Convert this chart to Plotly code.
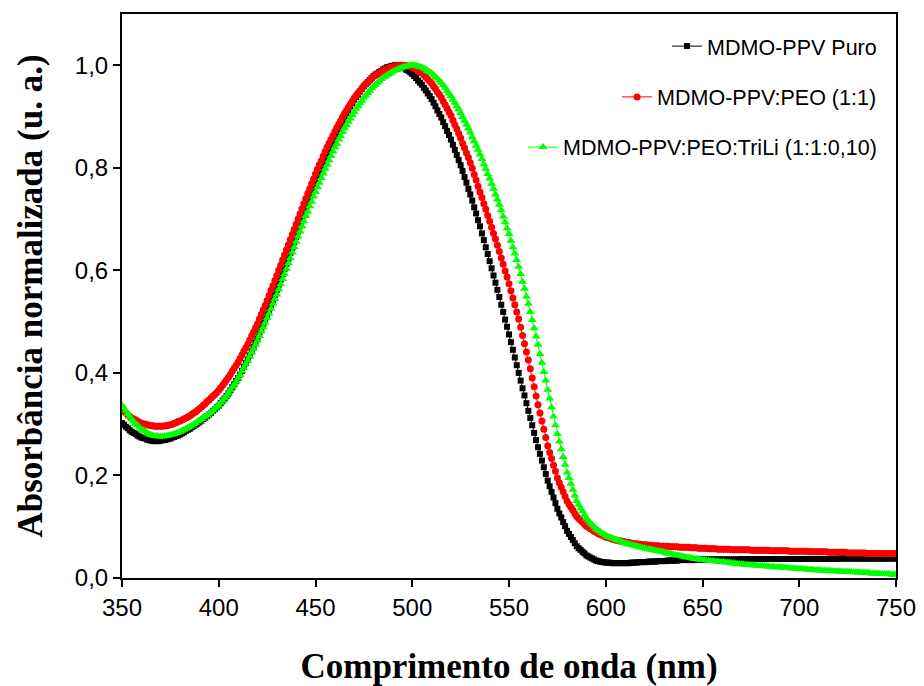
import plotly.graph_objects as go

# Wavelength grid (nm), one reading per nanometre
wavelength = list(range(350, 751))

# Normalised absorbance, MDMO-PPV pure film
abs_puro = [
    0.302, 0.299, 0.295, 0.292, 0.288, 0.285, 0.283, 0.281, 0.278, 0.276,
    0.274, 0.273, 0.272, 0.270, 0.269, 0.268, 0.267, 0.267, 0.267, 0.267,
    0.268, 0.269, 0.269, 0.270, 0.271, 0.272, 0.274, 0.275, 0.277, 0.278,
    0.280, 0.282, 0.284, 0.287, 0.289, 0.291, 0.294, 0.296, 0.299, 0.301,
    0.304, 0.307, 0.310, 0.313, 0.316, 0.319, 0.322, 0.326, 0.329, 0.333,
    0.336, 0.341, 0.346, 0.350, 0.355, 0.360, 0.366, 0.372, 0.378, 0.384,
    0.390, 0.397, 0.404, 0.412, 0.419, 0.426, 0.434, 0.442, 0.451, 0.459,
    0.467, 0.476, 0.485, 0.495, 0.504, 0.513, 0.523, 0.533, 0.542, 0.552,
    0.562, 0.572, 0.582, 0.593, 0.603, 0.613, 0.623, 0.634, 0.644, 0.655,
    0.665, 0.676, 0.687, 0.698, 0.708, 0.719, 0.729, 0.739, 0.750, 0.760,
    0.770, 0.780, 0.789, 0.799, 0.808, 0.818, 0.827, 0.836, 0.844, 0.853,
    0.862, 0.870, 0.877, 0.885, 0.892, 0.900, 0.907, 0.913, 0.920, 0.926,
    0.933, 0.938, 0.943, 0.949, 0.954, 0.959, 0.963, 0.967, 0.971, 0.975,
    0.979, 0.982, 0.984, 0.987, 0.989, 0.992, 0.994, 0.996, 0.997, 0.998,
    0.999, 1.000, 1.000, 0.999, 0.998, 0.996, 0.994, 0.991, 0.989, 0.986,
    0.983, 0.979, 0.975, 0.970, 0.966, 0.962, 0.956, 0.951, 0.945, 0.940,
    0.934, 0.927, 0.920, 0.912, 0.905, 0.898, 0.889, 0.881, 0.872, 0.864,
    0.855, 0.845, 0.835, 0.825, 0.815, 0.805, 0.794, 0.782, 0.771, 0.759,
    0.748, 0.736, 0.723, 0.711, 0.698, 0.686, 0.672, 0.659, 0.645, 0.632,
    0.618, 0.604, 0.590, 0.576, 0.562, 0.548, 0.533, 0.519, 0.504, 0.490,
    0.475, 0.460, 0.445, 0.430, 0.415, 0.400, 0.385, 0.370, 0.356, 0.341,
    0.326, 0.312, 0.298, 0.283, 0.269, 0.255, 0.242, 0.229, 0.216, 0.203,
    0.190, 0.179, 0.168, 0.157, 0.146, 0.135, 0.126, 0.118, 0.109, 0.101,
    0.092, 0.086, 0.080, 0.074, 0.068, 0.062, 0.058, 0.055, 0.051, 0.048,
    0.044, 0.042, 0.040, 0.038, 0.036, 0.034, 0.033, 0.032, 0.031, 0.031,
    0.030, 0.030, 0.030, 0.029, 0.029, 0.029, 0.029, 0.029, 0.029, 0.029,
    0.029, 0.029, 0.029, 0.030, 0.030, 0.030, 0.030, 0.031, 0.031, 0.031,
    0.031, 0.031, 0.032, 0.032, 0.032, 0.032, 0.032, 0.033, 0.033, 0.033,
    0.033, 0.033, 0.034, 0.034, 0.034, 0.034, 0.034, 0.034, 0.035, 0.035,
    0.035, 0.035, 0.035, 0.035, 0.035, 0.035, 0.035, 0.036, 0.036, 0.036,
    0.036, 0.036, 0.036, 0.036, 0.036, 0.036, 0.036, 0.036, 0.036, 0.036,
    0.036, 0.036, 0.036, 0.036, 0.036, 0.036, 0.036, 0.036, 0.036, 0.036,
    0.037, 0.037, 0.037, 0.037, 0.037, 0.037, 0.037, 0.037, 0.037, 0.037,
    0.037, 0.037, 0.037, 0.037, 0.037, 0.037, 0.037, 0.037, 0.037, 0.037,
    0.037, 0.037, 0.037, 0.037, 0.037, 0.037, 0.037, 0.037, 0.037, 0.037,
    0.037, 0.037, 0.037, 0.037, 0.037, 0.037, 0.037, 0.037, 0.037, 0.037,
    0.037, 0.037, 0.037, 0.037, 0.037, 0.037, 0.037, 0.037, 0.037, 0.037,
    0.038, 0.038, 0.038, 0.038, 0.038, 0.038, 0.038, 0.038, 0.038, 0.038,
    0.038, 0.038, 0.038, 0.038, 0.038, 0.038, 0.038, 0.038, 0.038, 0.038,
    0.038, 0.038, 0.038, 0.038, 0.038, 0.038, 0.038, 0.038, 0.038, 0.038,
    0.038,
]

# Normalised absorbance, MDMO-PPV:PEO (1:1) blend
abs_peo = [
    0.328, 0.325, 0.322, 0.318, 0.315, 0.312, 0.310, 0.308, 0.306, 0.304,
    0.302, 0.301, 0.300, 0.299, 0.298, 0.297, 0.297, 0.296, 0.296, 0.296,
    0.296, 0.296, 0.297, 0.297, 0.298, 0.299, 0.300, 0.302, 0.303, 0.305,
    0.306, 0.308, 0.310, 0.312, 0.314, 0.316, 0.319, 0.322, 0.324, 0.327,
    0.330, 0.333, 0.337, 0.340, 0.344, 0.347, 0.351, 0.355, 0.358, 0.362,
    0.366, 0.371, 0.376, 0.381, 0.386, 0.391, 0.397, 0.403, 0.409, 0.415,
    0.421, 0.428, 0.435, 0.442, 0.449, 0.456, 0.464, 0.472, 0.480, 0.488,
    0.496, 0.505, 0.514, 0.523, 0.532, 0.541, 0.551, 0.561, 0.570, 0.580,
    0.590, 0.600, 0.610, 0.620, 0.630, 0.640, 0.650, 0.660, 0.670, 0.680,
    0.690, 0.700, 0.710, 0.720, 0.730, 0.740, 0.750, 0.759, 0.769, 0.778,
    0.788, 0.797, 0.806, 0.814, 0.823, 0.832, 0.840, 0.848, 0.855, 0.863,
    0.871, 0.878, 0.885, 0.892, 0.899, 0.906, 0.912, 0.918, 0.924, 0.930,
    0.936, 0.941, 0.946, 0.950, 0.955, 0.960, 0.964, 0.967, 0.971, 0.974,
    0.978, 0.980, 0.983, 0.985, 0.988, 0.990, 0.992, 0.993, 0.995, 0.996,
    0.997, 0.998, 0.999, 0.999, 1.000, 1.000, 1.000, 0.999, 0.998, 0.997,
    0.996, 0.994, 0.992, 0.989, 0.987, 0.985, 0.981, 0.977, 0.973, 0.969,
    0.965, 0.959, 0.954, 0.948, 0.943, 0.937, 0.930, 0.923, 0.916, 0.909,
    0.902, 0.893, 0.884, 0.876, 0.867, 0.858, 0.848, 0.839, 0.829, 0.820,
    0.810, 0.799, 0.787, 0.776, 0.764, 0.753, 0.742, 0.730, 0.719, 0.707,
    0.696, 0.684, 0.672, 0.661, 0.649, 0.637, 0.624, 0.612, 0.599, 0.587,
    0.574, 0.560, 0.546, 0.533, 0.519, 0.505, 0.489, 0.473, 0.457, 0.441,
    0.425, 0.408, 0.390, 0.373, 0.355, 0.338, 0.322, 0.306, 0.290, 0.274,
    0.258, 0.245, 0.233, 0.220, 0.208, 0.195, 0.186, 0.177, 0.168, 0.159,
    0.150, 0.144, 0.138, 0.132, 0.126, 0.120, 0.116, 0.112, 0.109, 0.105,
    0.101, 0.099, 0.096, 0.094, 0.091, 0.089, 0.087, 0.085, 0.084, 0.082,
    0.080, 0.079, 0.078, 0.076, 0.075, 0.074, 0.073, 0.072, 0.072, 0.071,
    0.070, 0.069, 0.069, 0.068, 0.067, 0.067, 0.067, 0.066, 0.066, 0.065,
    0.065, 0.065, 0.064, 0.064, 0.063, 0.063, 0.063, 0.063, 0.062, 0.062,
    0.062, 0.062, 0.062, 0.061, 0.061, 0.061, 0.061, 0.061, 0.060, 0.060,
    0.060, 0.060, 0.060, 0.060, 0.059, 0.059, 0.059, 0.059, 0.058, 0.058,
    0.058, 0.058, 0.058, 0.057, 0.057, 0.057, 0.057, 0.057, 0.056, 0.056,
    0.056, 0.056, 0.056, 0.056, 0.056, 0.055, 0.055, 0.055, 0.055, 0.055,
    0.055, 0.055, 0.055, 0.055, 0.055, 0.054, 0.054, 0.054, 0.054, 0.054,
    0.054, 0.054, 0.054, 0.054, 0.054, 0.053, 0.053, 0.053, 0.053, 0.053,
    0.053, 0.053, 0.053, 0.053, 0.053, 0.052, 0.052, 0.052, 0.052, 0.052,
    0.052, 0.052, 0.052, 0.052, 0.052, 0.051, 0.051, 0.051, 0.051, 0.051,
    0.051, 0.051, 0.051, 0.051, 0.051, 0.050, 0.050, 0.050, 0.050, 0.050,
    0.050, 0.050, 0.050, 0.050, 0.050, 0.049, 0.049, 0.049, 0.049, 0.049,
    0.049, 0.049, 0.049, 0.049, 0.049, 0.048, 0.048, 0.048, 0.048, 0.048,
    0.048, 0.048, 0.048, 0.048, 0.048, 0.048, 0.048, 0.048, 0.048, 0.048,
    0.048,
]

# Normalised absorbance, MDMO-PPV:PEO:TriLi (1:1:0,10) blend
abs_trili = [
    0.337, 0.331, 0.326, 0.320, 0.315, 0.309, 0.305, 0.301, 0.298, 0.294,
    0.290, 0.288, 0.286, 0.283, 0.281, 0.279, 0.278, 0.277, 0.277, 0.276,
    0.276, 0.276, 0.277, 0.277, 0.278, 0.279, 0.280, 0.281, 0.283, 0.284,
    0.285, 0.287, 0.289, 0.291, 0.293, 0.295, 0.297, 0.300, 0.302, 0.305,
    0.307, 0.310, 0.313, 0.315, 0.318, 0.321, 0.324, 0.327, 0.331, 0.334,
    0.337, 0.342, 0.346, 0.351, 0.355, 0.360, 0.366, 0.372, 0.377, 0.383,
    0.389, 0.396, 0.403, 0.410, 0.417, 0.424, 0.432, 0.440, 0.447, 0.455,
    0.463, 0.472, 0.481, 0.489, 0.498, 0.507, 0.516, 0.525, 0.535, 0.544,
    0.553, 0.563, 0.573, 0.583, 0.593, 0.603, 0.614, 0.624, 0.635, 0.645,
    0.656, 0.666, 0.676, 0.686, 0.696, 0.706, 0.715, 0.725, 0.734, 0.744,
    0.753, 0.762, 0.771, 0.780, 0.789, 0.798, 0.806, 0.815, 0.823, 0.832,
    0.840, 0.847, 0.855, 0.862, 0.870, 0.877, 0.883, 0.890, 0.896, 0.903,
    0.909, 0.915, 0.920, 0.926, 0.931, 0.937, 0.941, 0.946, 0.950, 0.955,
    0.959, 0.962, 0.966, 0.969, 0.973, 0.976, 0.978, 0.981, 0.983, 0.986,
    0.988, 0.990, 0.991, 0.993, 0.994, 0.996, 0.997, 0.998, 0.999, 1.000,
    1.000, 1.000, 0.999, 0.998, 0.997, 0.996, 0.994, 0.992, 0.989, 0.987,
    0.985, 0.981, 0.977, 0.974, 0.970, 0.966, 0.961, 0.956, 0.950, 0.945,
    0.940, 0.933, 0.927, 0.920, 0.914, 0.907, 0.899, 0.892, 0.884, 0.877,
    0.869, 0.860, 0.852, 0.843, 0.835, 0.826, 0.817, 0.807, 0.798, 0.788,
    0.779, 0.769, 0.759, 0.748, 0.738, 0.728, 0.717, 0.705, 0.694, 0.682,
    0.671, 0.658, 0.645, 0.633, 0.620, 0.607, 0.593, 0.578, 0.564, 0.549,
    0.535, 0.519, 0.503, 0.487, 0.471, 0.455, 0.437, 0.420, 0.402, 0.385,
    0.367, 0.350, 0.333, 0.315, 0.298, 0.281, 0.266, 0.251, 0.236, 0.221,
    0.206, 0.195, 0.184, 0.172, 0.161, 0.150, 0.143, 0.136, 0.130, 0.123,
    0.116, 0.112, 0.108, 0.104, 0.100, 0.096, 0.093, 0.091, 0.088, 0.086,
    0.083, 0.081, 0.080, 0.078, 0.077, 0.075, 0.074, 0.072, 0.071, 0.069,
    0.068, 0.067, 0.066, 0.065, 0.064, 0.063, 0.062, 0.061, 0.060, 0.059,
    0.058, 0.057, 0.056, 0.056, 0.055, 0.054, 0.053, 0.052, 0.052, 0.051,
    0.050, 0.049, 0.048, 0.048, 0.047, 0.046, 0.045, 0.044, 0.044, 0.043,
    0.042, 0.041, 0.040, 0.040, 0.039, 0.038, 0.037, 0.037, 0.036, 0.036,
    0.035, 0.035, 0.034, 0.034, 0.033, 0.033, 0.033, 0.032, 0.032, 0.031,
    0.031, 0.031, 0.030, 0.030, 0.030, 0.029, 0.029, 0.028, 0.028, 0.027,
    0.027, 0.027, 0.026, 0.026, 0.026, 0.025, 0.025, 0.025, 0.024, 0.024,
    0.024, 0.024, 0.023, 0.023, 0.023, 0.022, 0.022, 0.022, 0.021, 0.021,
    0.021, 0.021, 0.020, 0.020, 0.020, 0.019, 0.019, 0.019, 0.018, 0.018,
    0.018, 0.018, 0.017, 0.017, 0.017, 0.016, 0.016, 0.016, 0.015, 0.015,
    0.015, 0.015, 0.014, 0.014, 0.014, 0.014, 0.014, 0.013, 0.013, 0.013,
    0.013, 0.013, 0.012, 0.012, 0.012, 0.012, 0.012, 0.011, 0.011, 0.011,
    0.011, 0.011, 0.010, 0.010, 0.010, 0.010, 0.010, 0.009, 0.009, 0.009,
    0.009, 0.009, 0.008, 0.008, 0.008, 0.008, 0.008, 0.007, 0.007, 0.007,
    0.007,
]

series_names = [
    "MDMO-PPV Puro",
    "MDMO-PPV:PEO (1:1)",
    "MDMO-PPV:PEO:TriLi (1:1:0,10)",
]
series_values = [abs_puro, abs_peo, abs_trili]

x_tick_vals = [350, 400, 450, 500, 550, 600, 650, 700, 750]
x_tick_text = ["350", "400", "450", "500", "550", "600", "650", "700", "750"]
y_tick_vals = [0.0, 0.2, 0.4, 0.6, 0.8, 1.0]
y_tick_text = ["0,0", "0,2", "0,4", "0,6", "0,8", "1,0"]

for vals in series_values:
    assert len(vals) == len(wavelength)

# Drawing styles: symbol, size, colour, legend slot and legend height
styles = [
    dict(symbol="square", size=6, color="#000000", legend="legend", ly=0.943),
    dict(symbol="circle", size=7, color="#FF0000", legend="legend2", ly=0.853),
    dict(symbol="triangle-up", size=8, color="#00FF00", legend="legend3", ly=0.764),
]

fig = go.Figure()
for name, vals, st in zip(series_names, series_values, styles):
    fig.add_trace(go.Scatter(
        x=wavelength,
        y=vals,
        name=name,
        mode="lines+markers",
        line=dict(color=st["color"], width=1),
        marker=dict(symbol=st["symbol"], size=st["size"], color=st["color"],
                    line=dict(width=0)),
        legend=st["legend"],
    ))

# One right-aligned legend per series so the entries line up on their right edge
legend_font = dict(family="Arial, Liberation Sans, sans-serif", size=21.5, color="#000000")
layout_legends = {}
for st in styles:
    layout_legends[st["legend"]] = dict(
        x=0.982, y=st["ly"], xanchor="right", yanchor="middle",
        bgcolor="rgba(0,0,0,0)", borderwidth=0, font=legend_font,
    )

axis_font = dict(family="Arial, Liberation Sans, sans-serif", size=24, color="#000000")
title_font = dict(family="Times New Roman, Liberation Serif, serif", size=35,
                  color="#000000", weight="bold")

fig.update_layout(
    width=924,
    height=686,
    paper_bgcolor="white",
    plot_bgcolor="white",
    margin=dict(l=122, r=28, t=14, b=108),
    showlegend=True,
    **layout_legends,
    xaxis=dict(
        range=[350, 750],
        tickvals=x_tick_vals,
        ticktext=x_tick_text,
        ticks="outside",
        ticklen=7,
        tickwidth=2,
        tickcolor="#000000",
        showline=True,
        linecolor="#000000",
        linewidth=2,
        mirror=True,
        showgrid=False,
        zeroline=False,
        tickfont=axis_font,
        title=dict(text="Comprimento de onda (nm)", font=title_font, standoff=34),
        automargin=False,
    ),
    yaxis=dict(
        range=[0, 1.1],
        tickvals=y_tick_vals,
        ticktext=y_tick_text,
        ticks="outside",
        ticklen=7,
        tickwidth=2,
        tickcolor="#000000",
        showline=True,
        linecolor="#000000",
        linewidth=2,
        mirror=True,
        showgrid=False,
        zeroline=False,
        tickfont=axis_font,
        title=dict(text="Absorbância normalizada (u. a.)", font=title_font, standoff=22),
        automargin=False,
    ),
)

fig.write_html("out.html")
